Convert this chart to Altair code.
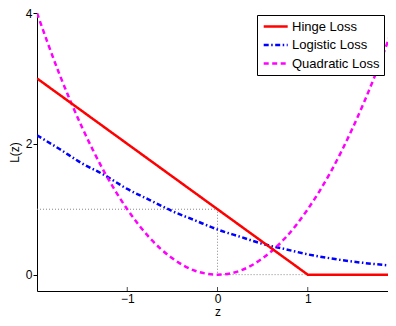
import altair as alt
import pandas as pd

series = ["Hinge Loss", "Logistic Loss", "Quadratic Loss"]
colors = ["#ff0000", "#0000ff", "#ff00ff"]
dashes = [[1, 0], [5, 2.5, 1.5, 2.5], [5, 3.5]]

z_vals = [-2, -1.75, -1.5, -1.25, -1, -0.75, -0.5, -0.25, 0,
          0.25, 0.5, 0.75, 1, 1.25, 1.5, 1.75, 2]
quadratic = [4, 3.06, 2.25, 1.56, 1, 0.56, 0.25, 0.06, 0,
             0.06, 0.25, 0.56, 1, 1.56, 2.25, 3.06, 4]
logistic = [2.13, 1.92, 1.70, 1.52, 1.31, 1.14, 0.97, 0.83, 0.69,
            0.58, 0.47, 0.39, 0.31, 0.25, 0.20, 0.16, 0.13]
hinge_z = [-2, 1, 2]
hinge = [3, 0, 0]

guide_z = [-2, 0, 0, 1]
guide_y = [1, 1, 0, 0]

x_ticks = [-1, 0, 1]
y_ticks = [0, 2, 4]

hinge_df = pd.DataFrame({"z": hinge_z, "L": hinge, "series": series[0],
                         "o": list(range(len(hinge_z)))})
rows = []
for i, (z, v) in enumerate(zip(z_vals, logistic)):
    rows.append({"z": z, "L": v, "series": series[1], "o": i})
for i, (z, v) in enumerate(zip(z_vals, quadratic)):
    rows.append({"z": z, "L": v, "series": series[2], "o": i})
curve_df = pd.DataFrame(rows)

guide_df = pd.DataFrame({"z": guide_z, "L": guide_y, "o": list(range(len(guide_z)))})
tick_df = pd.DataFrame({"t": x_ticks})

FONT = "Liberation Sans"
W, H = 351, 278

xscale = alt.Scale(domain=[-2, 2], nice=False, zero=False, range=[0, 361])
yscale = alt.Scale(domain=[-0.25, 4], nice=False, zero=False)

xaxis = alt.Axis(values=x_ticks, title="z", tickSize=0, labelPadding=2,
                 titlePadding=2, format="d")
yaxis = alt.Axis(values=y_ticks, title="L(z)", tickSize=4, labelPadding=1,
                 titlePadding=4, format="d")

X = alt.X("z:Q", scale=xscale, axis=xaxis)
Y = alt.Y("L:Q", scale=yscale, axis=yaxis)

legend = alt.Legend(
    title=None, orient="none", legendX=220, legendY=2,
    symbolType="M-0.8,0H3.2", symbolSize=144, symbolStrokeWidth=2.5,
    labelFont=FONT, labelFontSize=13, labelColor="black", labelOffset=16,
    strokeColor="black", fillColor="white", padding=4, rowPadding=3.5,
    labelLimit=200,
)
COLOR = alt.Color("series:N", scale=alt.Scale(domain=series, range=colors), legend=legend)
DASH = alt.StrokeDash("series:N", scale=alt.Scale(domain=series, range=dashes), legend=legend)

guide = alt.Chart(guide_df).mark_line(
    color="#888888", strokeWidth=1, strokeDash=[1, 2]
).encode(x=X, y=Y, order="o:Q")

hinge_line = alt.Chart(hinge_df).mark_line(strokeWidth=2.5, clip=True).encode(
    x=X, y=Y, color=COLOR, strokeDash=DASH, order="o:Q"
)

curves = alt.Chart(curve_df).mark_line(
    strokeWidth=2.5, clip=True, interpolate="monotone"
).encode(x=X, y=Y, color=COLOR, strokeDash=DASH, order="o:Q")

ticks = alt.Chart(tick_df).mark_tick(
    orient="vertical", size=4, thickness=1, color="black"
).encode(
    x=alt.X("t:Q", scale=xscale, axis=xaxis),
    y=alt.value(H - 2),
)

chart = alt.layer(guide, curves, hinge_line, ticks).properties(
    width=W, height=H,
    autosize=alt.AutoSizeParams(type="none"),
    padding={"left": 29, "top": 5, "right": 0, "bottom": 27},
).configure_view(stroke=None).configure_axis(
    grid=False, domainColor="black", tickColor="black", labelColor="black",
    titleColor="black", labelFont=FONT, titleFont=FONT, labelFontSize=12,
    titleFontSize=12, titleFontWeight="normal", domainWidth=1,
)

chart.save("out.html", embed_options={"renderer": "svg", "actions": False})
